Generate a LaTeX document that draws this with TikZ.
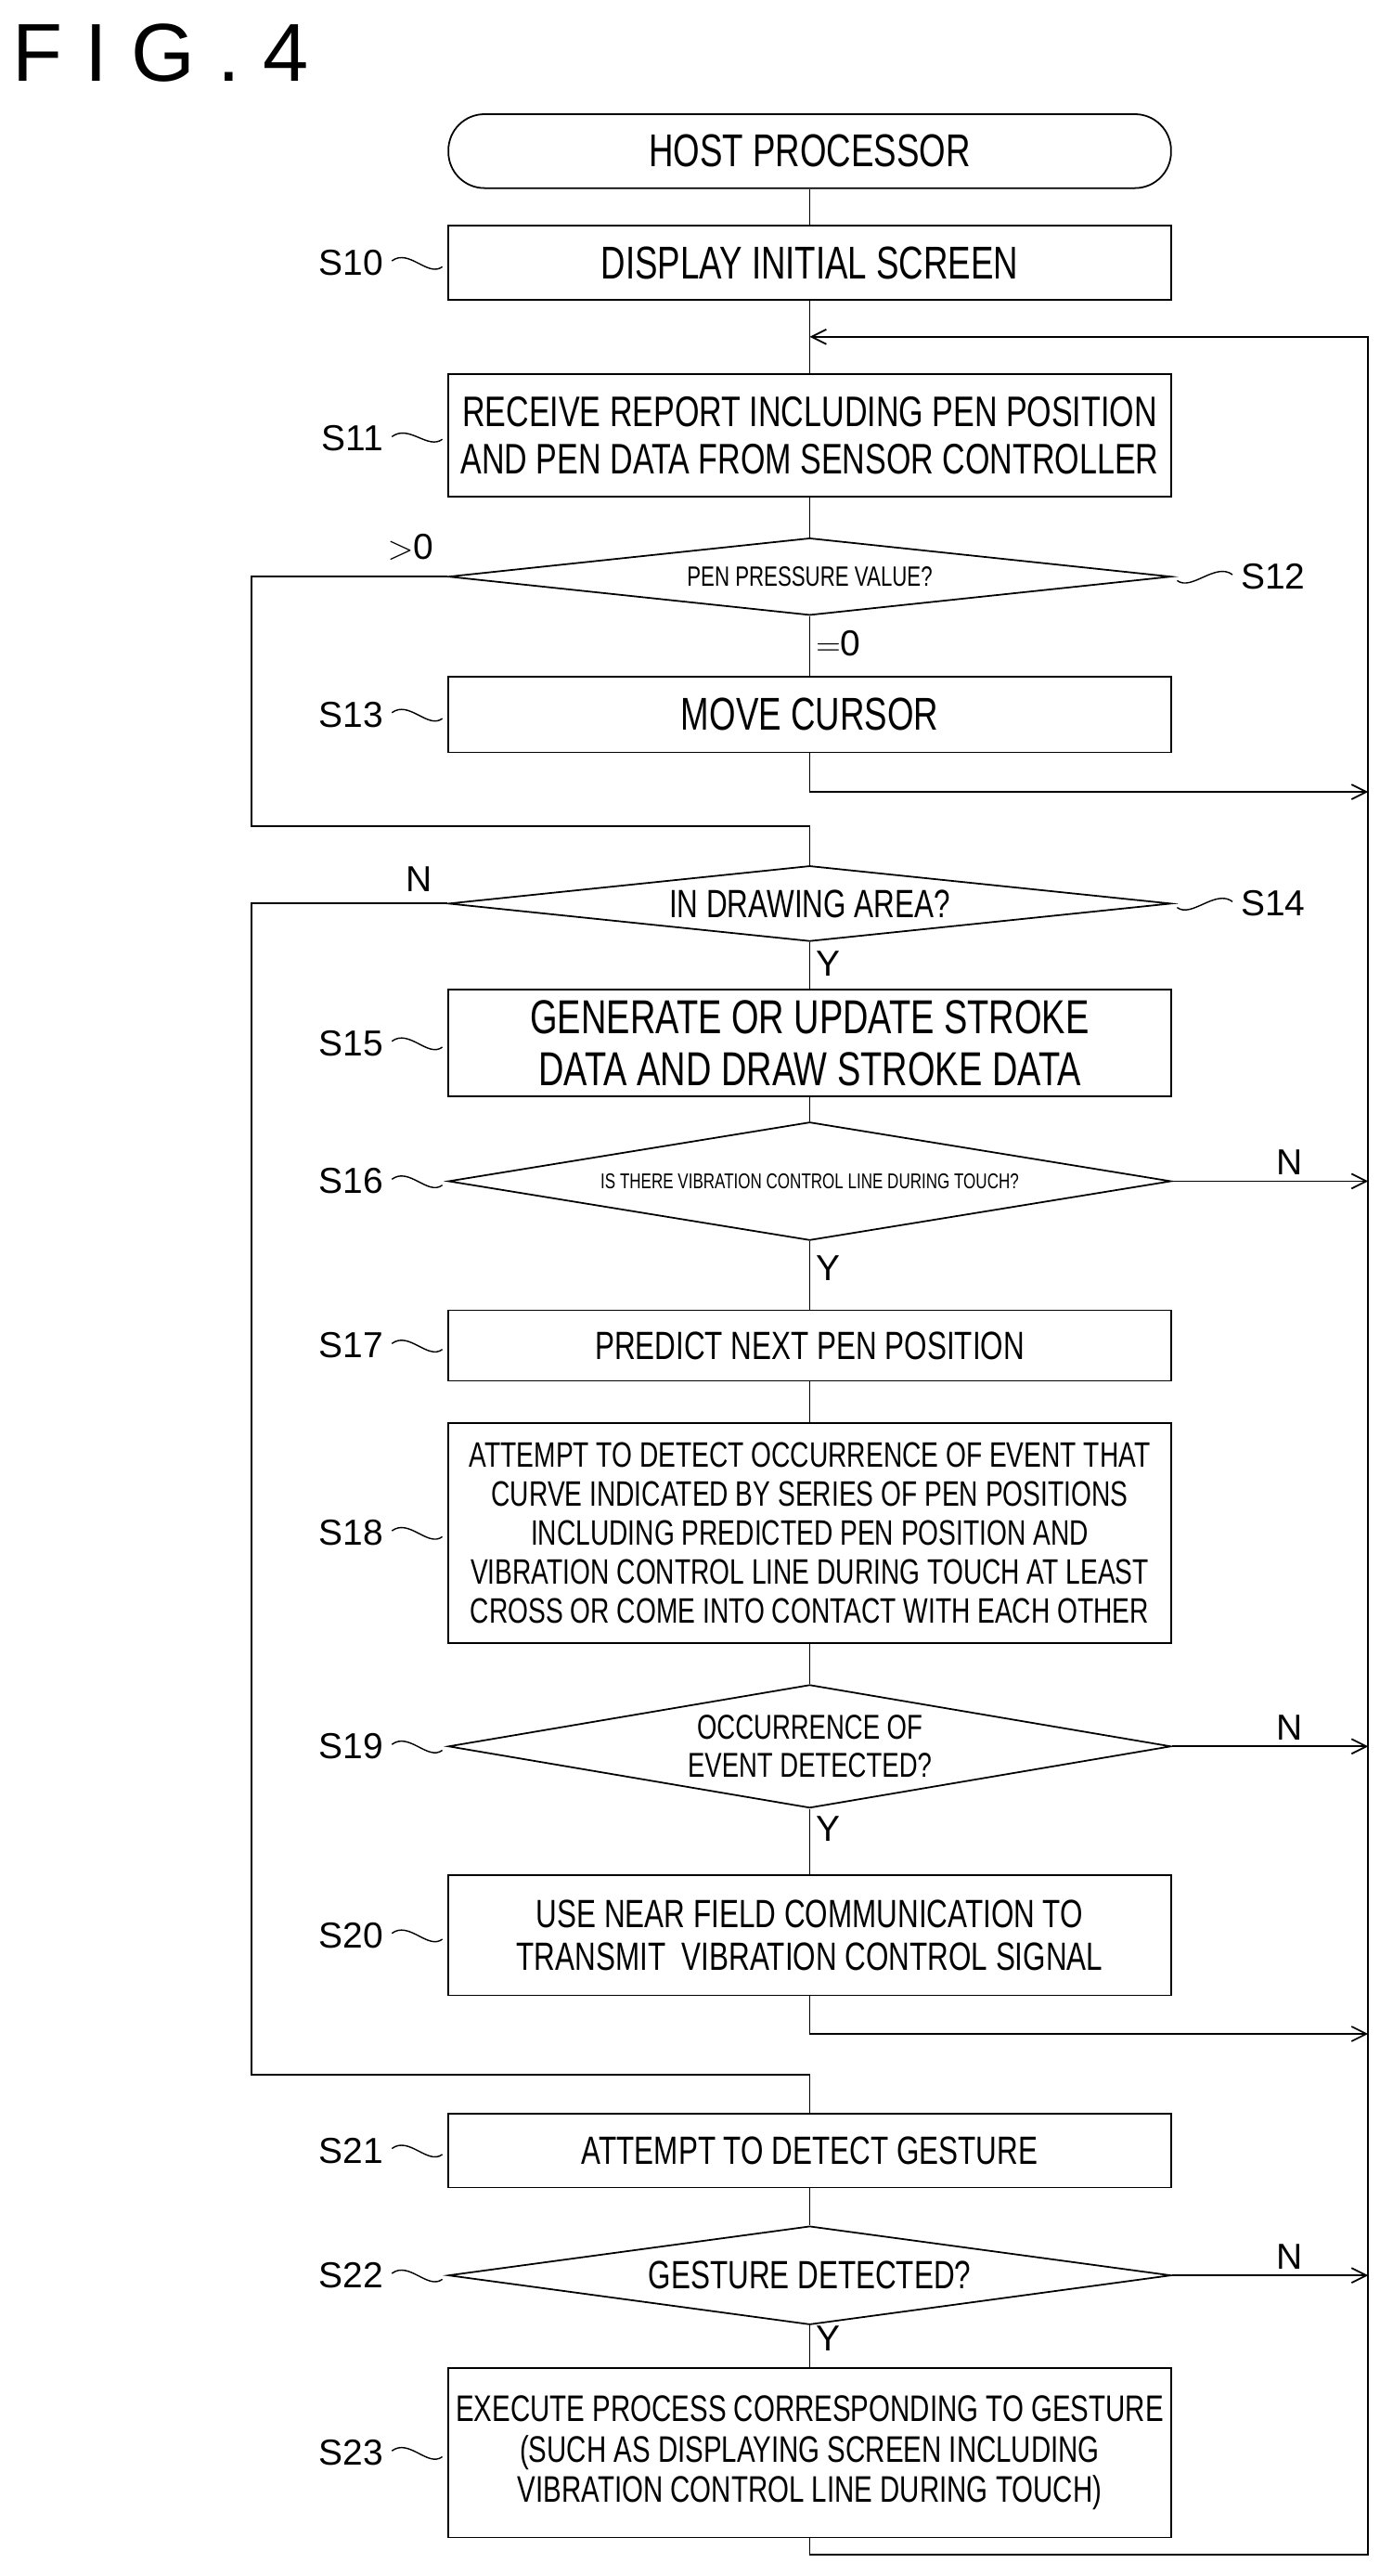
\documentclass[tikz,border=0pt]{standalone}
\usepackage{fontspec}
\setmainfont[FakeStretch=0.74]{Liberation Sans}
\newfontfamily\titlefont{Liberation Sans}
\usetikzlibrary{positioning,shapes.geometric,arrows.meta}
\newcommand\fs[1]{\fontsize{#1}{1.1\dimexpr#1pt\relax}\selectfont}
\tikzset{
  box/.style={draw, line width=1pt, minimum width=440pt, align=center, inner sep=2pt, font=\fs{24}},
  dec/.style={draw, line width=1pt, diamond, minimum width=440pt, inner sep=0pt, align=center, font=\fs{22}},
  term/.style={draw, line width=1pt, rounded corners=22pt, minimum width=440pt, minimum height=45pt, font=\fs{28}},
  lbl/.style={font=\titlefont\fs{22}},
  flow/.style={line width=1pt},
  arr/.style={line width=1pt, -{Straight Barb[length=9pt,width=9pt]}},
  wave/.style={line width=0.8pt, shorten >=4pt, shorten <=2pt},
}
\begin{document}
\begin{tikzpicture}[x=1pt,y=-1pt]
  \useasboundingbox (0,0) rectangle (848,1568);
  \node[anchor=west, font=\titlefont\fs{50}] (fig) at (4,32) {F I G . 4};

  % nodes of the flow
  \node[term] (hp) at (493,92) {HOST PROCESSOR};
  \node[box, minimum height=45pt, font=\fs{28}] (b10) at (493,160) {DISPLAY INITIAL SCREEN};
  \node[box, minimum height=75pt, font=\fs{26}] (b11) at (493,265) {RECEIVE REPORT INCLUDING PEN POSITION\\AND PEN DATA FROM SENSOR CONTROLLER};
  \node[dec, minimum height=47pt, aspect=9.4, font=\fs{17}] (d12) at (493,351) {PEN PRESSURE VALUE?};
  \node[box, minimum height=46pt, font=\fs{28}] (b13) at (493,435) {MOVE CURSOR};
  \node[dec, minimum height=46pt, aspect=9.6, font=\fs{24}] (d14) at (493,550) {IN DRAWING AREA?};
  \node[box, minimum height=65pt, font=\fs{29}] (b15) at (493,635) {GENERATE OR UPDATE STROKE\\DATA AND DRAW STROKE DATA};
  \node[dec, minimum height=72pt, aspect=6.1, font=\fs{13}] (d16) at (493,719) {IS THERE VIBRATION CONTROL LINE DURING TOUCH?};
  \node[box, minimum height=43pt] (b17) at (493,819) {PREDICT NEXT PEN POSITION};
  \node[box, minimum height=134pt, font=\fs{21.5}] (b18) at (493,933) {ATTEMPT TO DETECT OCCURRENCE OF EVENT THAT\\CURVE INDICATED BY SERIES OF PEN POSITIONS\\INCLUDING PREDICTED PEN POSITION AND\\VIBRATION CONTROL LINE DURING TOUCH AT LEAST\\CROSS OR COME INTO CONTACT WITH EACH OTHER};
  \node[dec, minimum height=75pt, aspect=5.9, font=\fs{21}] (d19) at (493,1063) {OCCURRENCE OF\\EVENT DETECTED?};
  \node[box, minimum height=73pt] (b20) at (493,1178) {USE NEAR FIELD COMMUNICATION TO\\TRANSMIT\ \ VIBRATION CONTROL SIGNAL};
  \node[box, minimum height=45pt] (b21) at (493,1309) {ATTEMPT TO DETECT GESTURE};
  \node[dec, minimum height=60pt, aspect=7.3, font=\fs{24}] (d22) at (493,1385) {GESTURE DETECTED?};
  \node[box, minimum height=103pt, font=\fs{22.5}] (b23) at (493,1493) {EXECUTE PROCESS CORRESPONDING TO GESTURE\\(SUCH AS DISPLAYING SCREEN INCLUDING\\VIBRATION CONTROL LINE DURING TOUCH)};

  % step labels
  \foreach \n/\y in {10/160,11/267,13/435,15/635,16/719,17/819,18/933,19/1063,20/1178,21/1309,22/1385,23/1493} {
    \node[lbl, anchor=east] (l\n) at (237,\y) {S\n};
  }
  \foreach \n/\t in {10/b10,11/b11,13/b13,15/b15,16/d16,17/b17,18/b18,19/d19,20/b20,21/b21,22/d22,23/b23} {
    \draw[wave] (l\n.east) .. controls +(12,-9) and +(-12,9) .. (\t.west);
  }
  \node[lbl, anchor=west] (l12) at (752,351) {S12};
  \node[lbl, anchor=west] (l14) at (752,550) {S14};
  \draw[wave] (l12.west) .. controls +(-12,-9) and +(12,9) .. (d12.east);
  \draw[wave] (l14.west) .. controls +(-12,-9) and +(12,9) .. (d14.east);

  % connector ends
  \coordinate (top) at (833,205);
  \coordinate (c13) at (833,482);
  \coordinate (c16) at (833,719);
  \coordinate (c19) at (833,1063);
  \coordinate (c20) at (833,1238);
  \coordinate (c22) at (833,1385);
  \coordinate (j14) at (493,503);
  \coordinate (j21) at (493,1263);
  \coordinate (bot) at (493,1555);
  \coordinate (lft) at (153,351);
  \coordinate (lf2) at (153,550);

  % connectors
  \draw[flow] (hp) -- (b10);
  \draw[flow] (b10) -- (b11);
  \draw[flow] (b11) -- (d12);
  \draw[flow] (d12) -- node[pos=0.45, right, lbl] {$=$0} (b13);
  \draw[arr] (b13.south) |- (c13);
  \draw[flow] (d12.west) -- (lft) |- (j14) -- (d14.north);
  \node[lbl] (gt) at (250,333) {$>$0};
  \node[lbl] (n14) at (255,535) {N};
  \draw[flow] (d14) -- node[pos=0.45, right, lbl] {Y} (b15);
  \draw[flow] (b15) -- (d16);
  \draw[arr] (d16.east) -- node[above right, lbl] {N} (c16);
  \draw[flow] (d16) -- node[pos=0.4, right, lbl] {Y} (b17);
  \draw[flow] (b17) -- (b18);
  \draw[flow] (b18) -- (d19);
  \draw[arr] (d19.east) -- node[above right, lbl] {N} (c19);
  \draw[flow] (d19) -- node[pos=0.3, right, lbl] {Y} (b20);
  \draw[arr] (b20.south) |- (c20);
  \draw[flow] (d14.west) -- (lf2) |- (j21) -- (b21.north);
  \draw[flow] (b21) -- (d22);
  \draw[arr] (d22.east) -- node[above right, lbl] {N} (c22);
  \draw[flow] (d22) -- node[pos=0.3, right, lbl] {Y} (b23);
  \draw[arr] (b23.south) -- (bot) -| (top) -- (493,205);
\end{tikzpicture}
\end{document}
